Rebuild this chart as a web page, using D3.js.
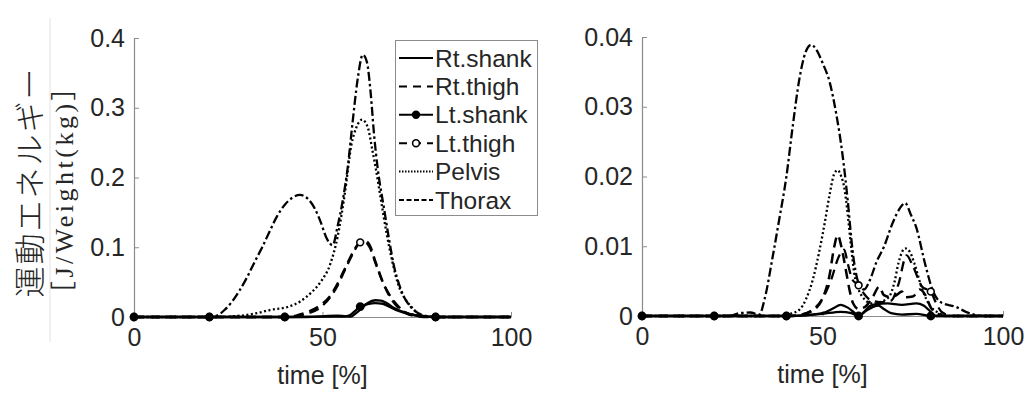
<!DOCTYPE html>
<html>
<head>
<meta charset="utf-8">
<script src="https://cdn.jsdelivr.net/npm/d3@7"></script>
<style>
  body { margin: 0; background: #fff; }
  text { fill: #262626; }
</style>
</head>
<body>
<div id="chart"></div>
<script>
// series names, legend order
const seriesNames = ["Rt.shank", "Rt.thigh", "Lt.shank", "Lt.thigh", "Pelvis", "Thorax"];
const markerTimes = [0, 20, 40, 60, 80];
const xTicks = [0, 50, 100];
const leftYTicks = [0, 0.1, 0.2, 0.3, 0.4];
const rightYTicks = [0, 0.01, 0.02, 0.03, 0.04];

// left panel, [time %, value]
const leftRtShank = [[0,0],[45,0],[50,0.001],[54,0.002],[56,0.001],[57.5,0.0005],[59,0.006],[60.5,0.013],[62,0.02],[64,0.024],[65.5,0.0235],[67,0.02],[69,0.013],[71,0.008],[73,0.0045],[76,0.0015],[80,0],[100,0]];
const leftRtThigh = [[0,0],[40,0],[43,0.002],[46,0.007],[48,0.012],[50,0.019],[52,0.03],[54,0.048],[56,0.07],[58,0.092],[59.5,0.105],[61,0.11],[62.5,0.103],[64,0.08],[66,0.05],[68,0.028],[70,0.014],[72,0.006],[75,0.001],[78,0],[100,0]];
const leftLtShank = [[0,0],[20,0],[40,0],[50,0.0005],[55,0.0005],[57,0.002],[58.5,0.008],[60,0.015],[62,0.0185],[64,0.02],[66,0.019],[68,0.014],[70,0.009],[73,0.004],[76,0.001],[80,0],[100,0]];
const leftLtThigh = [[0,0],[20,0],[40,0],[43,0.001],[46,0.005],[49,0.012],[52,0.028],[54,0.045],[56,0.068],[58,0.09],[60,0.107],[61,0.108],[62.5,0.1],[64,0.078],[66,0.05],[68,0.03],[70,0.016],[72,0.007],[75,0.002],[80,0],[100,0]];
const leftPelvis = [[0,0],[22,0],[26,0.001],[30,0.003],[33,0.006],[36,0.01],[40.5,0.014],[44,0.022],[47,0.035],[49.6,0.051],[52,0.075],[54,0.115],[56,0.18],[57.6,0.245],[59,0.272],[60.5,0.283],[62,0.272],[63.2,0.24],[64.2,0.211],[65.5,0.168],[67,0.12],[68.5,0.08],[70,0.048],[71.8,0.027],[73.5,0.015],[76,0.003],[79,0],[100,0]];
const leftThorax = [[0,0],[20,0],[22,0.002],[24,0.01],[26,0.022],[28,0.038],[30,0.057],[32,0.079],[34,0.1],[36,0.123],[38,0.145],[40,0.161],[42,0.171],[44,0.175],[46,0.17],[48,0.155],[49.6,0.135],[51,0.114],[52.7,0.103],[54,0.13],[55.4,0.168],[56.7,0.215],[58,0.28],[59.3,0.34],[60.7,0.376],[61.8,0.365],[62.8,0.32],[63.7,0.26],[64.6,0.215],[66.4,0.153],[67.7,0.11],[69,0.072],[70.3,0.047],[71.6,0.029],[73.5,0.014],[75.2,0.006],[78,0.001],[80,0],[100,0]];

// right panel
const rightRtShank = [[0,0],[40,0],[45,0.0001],[50,0.0004],[53,0.0011],[55,0.0016],[57,0.0012],[59,0.0004],[60,0],[61.5,0.0006],[63,0.0014],[65,0.0017],[68,0.0018],[72,0.0016],[76,0.0018],[78,0.0015],[80,0.0006],[81.5,0],[100,0]];
const rightRtThigh = [[0,0],[42,0],[45,0.0003],[48,0.001],[50,0.0025],[52,0.006],[53.2,0.0098],[54.2,0.0116],[55.2,0.01],[56.5,0.0065],[57.5,0.0037],[58.5,0.0018],[60,0.001],[62,0.0014],[64,0.0028],[65.7,0.0042],[67,0.003],[69,0.0027],[70.5,0.003],[72,0.0035],[73,0.0027],[75,0.0028],[77,0.0038],[78.5,0.003],[80,0.0012],[82,0.0003],[84,0],[100,0]];
const rightLtShank = [[0,0],[20,0],[40,0],[45,0.0001],[50,0.0003],[55,0.0006],[58,0.0004],[60,0],[62,0.0007],[64,0.0013],[65.5,0.0015],[67,0.001],[69,0.0004],[72,0.0002],[76,0.0003],[80,0],[100,0]];
const rightLtThigh = [[0,0],[20,0],[40,0],[44,0.0002],[47,0.0008],[50,0.0025],[52.4,0.0052],[54.5,0.0085],[56,0.0095],[57,0.0075],[58.3,0.0052],[60,0.0044],[61.5,0.0032],[63,0.0024],[66,0.002],[69,0.0022],[71,0.0045],[73.3,0.0087],[75,0.0072],[77.6,0.0042],[80,0.0035],[81.5,0.0018],[83,0.0006],[86,0],[100,0]];
const rightPelvis = [[0,0],[38,0],[41,0.0003],[43.6,0.0009],[45.5,0.0025],[47.3,0.0052],[49,0.009],[50.6,0.0133],[52,0.0175],[53.2,0.0203],[54.2,0.0209],[55.2,0.02],[56,0.0185],[57,0.0145],[57.8,0.0105],[58.8,0.0061],[60,0.0038],[61,0.0028],[63.8,0.0018],[66,0.002],[68.5,0.0028],[70,0.005],[71,0.0075],[72.9,0.0097],[74.2,0.0092],[75.4,0.0076],[77.7,0.0037],[80,0.0013],[82,0.0005],[85,0],[100,0]];
const rightThorax = [[0,0],[24,0],[27,0.0004],[30,0.0005],[32.5,0.0002],[34,0.0025],[36.2,0.0085],[38,0.0138],[40,0.02],[41.7,0.027],[43.6,0.034],[45.3,0.0378],[46.9,0.0389],[48.5,0.038],[50,0.0363],[52,0.0335],[53.8,0.029],[55.5,0.0233],[57,0.0165],[58.3,0.0095],[60,0.0047],[61.5,0.0038],[63,0.005],[65,0.0078],[67,0.0099],[69.4,0.0133],[71.5,0.0155],[72.9,0.0162],[74.5,0.0145],[75.9,0.0128],[78.6,0.0071],[80.5,0.0037],[83,0.0019],[87,0.0013],[89.7,0.0006],[92,0.0002],[95,0],[100,0]];

const width = 1032, height = 394;
const svg = d3.select("#chart").append("svg")
    .attr("width", width)
    .attr("height", height)
    .style("font-family", "'Liberation Sans', Arial, sans-serif");

// line style per series
const styles = {
    "Rt.shank": { dash: null, w: 2.3, marker: null },
    "Rt.thigh": { dash: "10,6", w: 2.5, marker: null },
    "Lt.shank": { dash: null, w: 2.3, marker: "filled" },
    "Lt.thigh": { dash: "10,6", w: 2.3, marker: "open" },
    "Pelvis":   { dash: "2,2.5", w: 2.3, marker: null },
    "Thorax":   { dash: "9,3,2.5,3", w: 2.3, marker: null }
};

function drawPanel(cfg) {
    const x = d3.scaleLinear().domain([0, 100]).range([cfg.x0, cfg.x1]);
    const y = d3.scaleLinear().domain(cfg.yDomain).range([cfg.y0, cfg.y1]);
    const g = svg.append("g");

    // y axis
    const yAxis = g.append("g")
        .attr("transform", `translate(${cfg.x0},0)`)
        .call(d3.axisLeft(y).tickValues(cfg.yTicks).tickSizeInner(-5).tickSizeOuter(0).tickPadding(9)
            .tickFormat(d => d === 0 ? "0" : String(+d.toFixed(3))));
    // x axis
    const xAxis = g.append("g")
        .attr("transform", `translate(0,${cfg.y0})`)
        .call(d3.axisBottom(x).tickValues(xTicks).tickSizeInner(-5).tickSizeOuter(0).tickPadding(11));
    [xAxis, yAxis].forEach(a => {
        a.select(".domain").attr("stroke", "#8c8c8c").attr("stroke-width", 1.2);
        a.selectAll(".tick line").attr("stroke", "#8c8c8c");
        a.selectAll(".tick text").attr("fill", "#262626").style("font-size", "25px")
            .style("font-family", "'Liberation Sans', Arial, sans-serif");
    });

    g.append("text")
        .attr("x", (cfg.x0 + cfg.x1) / 2)
        .attr("y", cfg.y0 + 67)
        .attr("text-anchor", "middle")
        .style("font-size", "25px")
        .text("time [%]");

    const line = d3.line()
        .x(d => x(d[0]))
        .y(d => y(d[1]))
        .curve(d3.curveMonotoneX);

    // draw back to front: Thorax first
    const order = ["Thorax", "Pelvis", "Rt.thigh", "Lt.thigh", "Rt.shank", "Lt.shank"];
    order.forEach(name => {
        const data = cfg.series[name];
        const st = styles[name];
        g.append("path")
            .datum(data)
            .attr("fill", "none")
            .attr("stroke", "#000")
            .attr("stroke-width", st.w)
            .attr("stroke-dasharray", st.dash)
            .attr("d", line);
        if (st.marker) {
            g.selectAll(null)
                .data(data.filter(d => markerTimes.includes(d[0])))
                .enter()
                .append("circle")
                .attr("cx", d => x(d[0]))
                .attr("cy", d => y(d[1]))
                .attr("r", st.marker === "filled" ? 3.6 : 3.4)
                .attr("fill", st.marker === "filled" ? "#000" : "#fff")
                .attr("stroke", "#000")
                .attr("stroke-width", 1.6);
        }
    });
}

drawPanel({
    x0: 134, x1: 511, y0: 317, y1: 38,
    yDomain: [0, 0.4], yTicks: leftYTicks,
    series: {
        "Rt.shank": leftRtShank, "Rt.thigh": leftRtThigh, "Lt.shank": leftLtShank,
        "Lt.thigh": leftLtThigh, "Pelvis": leftPelvis, "Thorax": leftThorax
    }
});

drawPanel({
    x0: 642, x1: 1003, y0: 316, y1: 37,
    yDomain: [0, 0.04], yTicks: rightYTicks,
    series: {
        "Rt.shank": rightRtShank, "Rt.thigh": rightRtThigh, "Lt.shank": rightLtShank,
        "Lt.thigh": rightLtThigh, "Pelvis": rightPelvis, "Thorax": rightThorax
    }
});

// y label (two lines)
svg.append("line")
    .attr("x1", 50).attr("x2", 50).attr("y1", 18).attr("y2", 342)
    .attr("stroke", "#e2e2e2").attr("stroke-width", 1);
svg.append("text")
    .attr("transform", "translate(27,182) rotate(-90)")
    .attr("text-anchor", "middle")
    .attr("dominant-baseline", "central")
    .style("font-family", "'Noto Sans CJK JP', sans-serif")
    .style("font-weight", 300)
    .style("font-size", "31px")
    .style("letter-spacing", "2px")
    .text("運動エネルギー");
svg.append("text")
    .attr("transform", "translate(64,189) rotate(-90)")
    .attr("text-anchor", "middle")
    .attr("dominant-baseline", "central")
    .style("font-family", "'Liberation Serif', 'Noto Sans CJK JP', serif")
    .style("font-size", "26px")
    .style("letter-spacing", "3.5px")
    .text("［J/Weight(kg)］");

// legend
const legend = svg.append("g");
legend.append("rect")
    .attr("x", 395.5).attr("y", 40.5)
    .attr("width", 142).attr("height", 175)
    .attr("fill", "#fff")
    .attr("stroke", "#8c8c8c")
    .attr("stroke-width", 1);
seriesNames.forEach((name, i) => {
    const st = styles[name];
    const ly = 58 + i * 28.4;
    legend.append("line")
        .attr("x1", 399).attr("x2", 433).attr("y1", ly).attr("y2", ly)
        .attr("stroke", "#000").attr("stroke-width", 2)
        .attr("stroke-dasharray", name === "Pelvis" ? "1.5,1.5" : name === "Thorax" ? "5,2.5" : st.dash ? "8,6" : null);
    if (st.marker) {
        legend.append("circle")
            .attr("cx", 416).attr("cy", ly).attr("r", 3.4)
            .attr("fill", st.marker === "filled" ? "#000" : "#fff")
            .attr("stroke", "#000").attr("stroke-width", 1.6);
    }
    legend.append("text")
        .attr("x", 435).attr("y", ly)
        .attr("dominant-baseline", "central")
        .style("font-size", "24.5px")
        .text(name);
});
</script>
</body>
</html>
